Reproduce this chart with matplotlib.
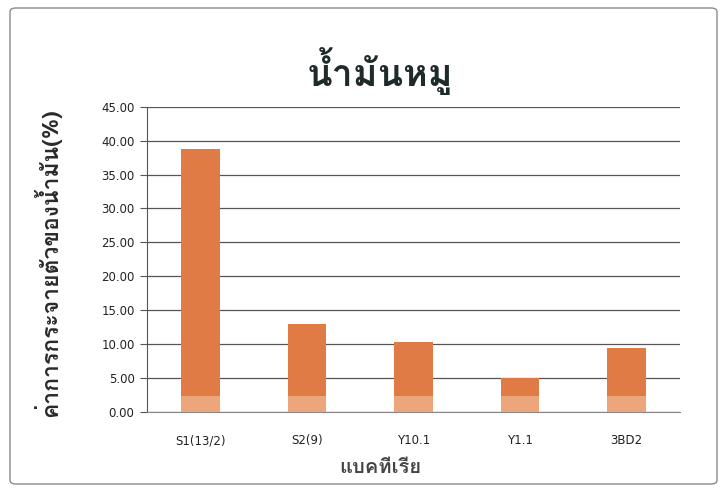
import matplotlib
matplotlib.use("Agg")
import matplotlib.pyplot as plt
from matplotlib.patches import FancyBboxPatch
from matplotlib import font_manager

categories = ["S1(13/2)", "S2(9)", "Y10.1", "Y1.1", "3BD2"]
values = [38.8, 13.0, 10.3, 5.0, 9.4]
yticks = [0, 5, 10, 15, 20, 25, 30, 35, 40, 45]
title = "น้ำมันหมู"
ylabel = "ค่าการกระจายตัวของน้ำมัน(%)"
xlabel = "แบคทีเรีย"

# find a font with Thai glyphs
thai_fonts = []
for f in font_manager.fontManager.ttflist:
    n = f.name
    if any(k in n for k in ["Thai", "Loma", "Garuda", "Kinnari", "Norasi", "Sawasdee", "Tlwg", "Umpush", "Waree", "Purisa", "Laksaman", "Sarabun"]):
        thai_fonts.append(n)
fams = list(dict.fromkeys(thai_fonts)) + ["DejaVu Sans"]
plt.rcParams['font.family'] = fams

W, H = 728, 492
fig = plt.figure(figsize=(7.28, 4.92), dpi=100)
fig.patch.set_facecolor("white")
border = FancyBboxPatch((10 / W, 1 - 484 / H), 707 / W, 476 / H, boxstyle="round,pad=0,rounding_size=0.008",
                        transform=fig.transFigure, fill=False, edgecolor="#8a8a8a", linewidth=1.0)
fig.patches.append(border)

ax = fig.add_axes([0.202, 0.163, 0.732, 0.62])
x = range(len(categories))
ax.bar(x, values, width=0.36, color="#E07B45", zorder=3)
ax.bar(x, [min(2.3, v) for v in values], width=0.36, color="#EDA57C", zorder=4)
ax.set_xlim(-0.5, len(categories) - 0.5)
ax.set_ylim(0, 45)
ax.set_yticks(yticks)
ax.set_yticklabels([f"{t:.2f}" for t in yticks], fontsize=8.5, color="#222222", family="DejaVu Sans")
ax.set_xticks(list(x))
ax.set_xticklabels(categories, fontsize=8.5, color="#222222", family="DejaVu Sans")
ax.tick_params(axis="y", length=5, color="#555555", direction="out", pad=4)
ax.tick_params(axis="x", length=0, pad=16)
ax.grid(axis="y", color="#555555", linewidth=0.9, zorder=0)
for s in ["top", "right"]:
    ax.spines[s].set_visible(False)
ax.spines["left"].set_color("#555555")
ax.spines["bottom"].set_color("#888888")

fig.text(0.522, 0.856, title, ha="center", va="center", fontsize=27, fontweight="bold", color="#1f2a2a")
fig.text(0.065, 0.467, ylabel, ha="center", va="center", rotation=90, fontsize=16.5, fontweight="bold", color="#2a2a2a")
fig.text(0.522, 0.05, xlabel, ha="center", va="center", fontsize=14.5, fontweight="bold", color="#444444")
fig.savefig("out.png", dpi=100)
